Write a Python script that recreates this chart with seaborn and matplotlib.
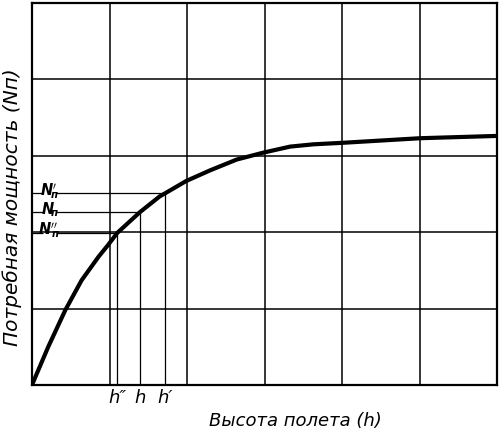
import matplotlib
matplotlib.use("Agg")
import matplotlib.pyplot as plt
import seaborn as sns
import pandas as pd

# curve, in grid units (6 columns x 5 rows)
height = [0.0, 0.21, 0.43, 0.64, 0.86, 0.98, 1.10, 1.39, 1.65, 1.72, 1.99,
          2.30, 2.64, 2.98, 3.33, 3.63, 4.01, 5.01, 6.0]
power = [0.0, 0.50, 0.98, 1.37, 1.68, 1.83, 1.99, 2.26, 2.47, 2.51, 2.67,
         2.81, 2.95, 3.04, 3.12, 3.15, 3.17, 3.23, 3.26]

# marked points on the curve
mark_h = [1.10, 1.39, 1.72]
mark_n = [1.99, 2.26, 2.51]
mark_n_labels = [r"$\mathbfit{N}''_{\!\!\!\mathbfit{п}}$",
                 r"$\mathbfit{N}_{\!\!\mathbfit{п}}$",
                 r"$\mathbfit{N}'_{\!\!\!\mathbfit{п}}$"]
mark_h_labels = ["h\u2033", "h", "h\u2032"]

grid_x = [0, 1, 2, 3, 4, 5, 6]
grid_y = [0, 1, 2, 3, 4, 5]

df = pd.DataFrame({"h": height, "N": power})

sns.set_style("white")
plt.rcParams["font.family"] = ["DejaVu Sans"]
plt.rcParams["text.color"] = "black"

fig = plt.figure(figsize=(5, 4.32), dpi=100)
ax = fig.add_axes([0.064, 0.109, 0.930, 0.884])

for gx in grid_x:
    ax.axvline(gx, color="black", lw=1.1, zorder=1)
for gy in grid_y:
    ax.axhline(gy, color="black", lw=1.1, zorder=1)

sns.lineplot(data=df, x="h", y="N", color="black", lw=3, ax=ax, zorder=3)

for hx, ny, nl, hl in zip(mark_h, mark_n, mark_n_labels, mark_h_labels):
    ax.vlines(hx, 0, ny, color="black", lw=0.9, zorder=2)
    ax.hlines(ny, 0, 0.14, color="black", lw=0.9, zorder=2)
    ax.hlines(ny, 0.31, hx, color="black", lw=0.9, zorder=2)
    ax.text(0.225, ny + 0.03, nl, ha="center", va="center", fontsize=10.5)
    ax.text(hx, -0.06, hl, ha="center", va="top", fontsize=13, style="italic")

ax.set_xlim(0, 6)
ax.set_ylim(0, 5)
ax.set_xticks([])
ax.set_yticks([])
ax.set_xlabel("")
ax.set_ylabel("")
for sp in ax.spines.values():
    sp.set_color("black")
    sp.set_linewidth(1.6)

fig.text(0.59, 0.014, "Высота полета (h)", ha="center", va="baseline",
         fontsize=13, style="italic")
fig.text(0.024, 0.521, "Потребная мощность (Nп)", ha="center", va="center",
         rotation=90, fontsize=14.5, style="italic")

fig.savefig("out.png", dpi=100)
